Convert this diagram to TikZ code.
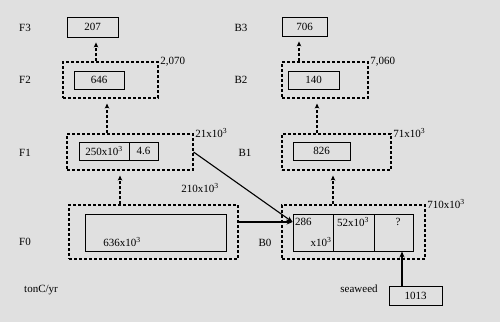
\documentclass[tikz,border=0pt]{standalone}
\usepackage{fontspec}
\setmainfont{Liberation Serif}
\usetikzlibrary{arrows.meta}
\begin{document}
\begin{tikzpicture}[x=1pt,y=-1pt,
  every node/.style={font=\fontsize{11}{13}\selectfont, inner sep=1pt},
  solidbox/.style={draw, line width=0.9pt, minimum height=18pt, inner sep=0pt},
  dashbox/.style={draw, line width=1.1pt, dash pattern=on 3pt off 2pt, inner sep=0pt},
  dasharrow/.style={line width=1.1pt, dash pattern=on 3pt off 2pt, -{Stealth[length=5pt,width=4.5pt]}, shorten >=5pt},
  solidarrow/.style={line width=1.1pt, -{Stealth[length=6pt,width=5pt]}},
  lvl/.style={anchor=center},
  corner/.style={anchor=west, inner sep=1.5pt}]
\fill[gray!24] (0,0) rectangle (500,322);
\useasboundingbox (0,0) rectangle (500,322);
% F side
\node[lvl] (lf3) at (25,28) {F3};
\node[lvl] (lf2) at (25,80) {F2};
\node[lvl] (lf1) at (25,153) {F1};
\node[lvl] (lf0) at (25,242) {F0};
\node[lvl] (lunit) at (41,290) {tonC/yr};
\node[solidbox, minimum width=51pt, minimum height=20pt] (f3box) at (92.5,27) {207};
\node[dashbox, minimum width=95pt, minimum height=36pt] (f2out) at (110.5,80) {};
\node[solidbox, minimum width=50pt] (f2in) at (99,80) {646};
\node[corner] (f2val) at (f2out.north east) {2,070};
\node[dashbox, minimum width=126pt, minimum height=36pt] (f1out) at (130,152) {};
\node[solidbox, minimum width=50pt] (f1a) at (104,151) {250x10\textsuperscript{3}};
\node[solidbox, minimum width=29pt] (f1b) at (143.5,151) {4.6};
\node[corner] (f1val) at (f1out.north east) {21x10\textsuperscript{3}};
\node[dashbox, minimum width=169pt, minimum height=54pt] (f0out) at (153.5,232) {};
\node[solidbox, minimum width=141pt, minimum height=37pt] (f0in) at (155.5,232.5) {};
\node (f0txt) at (122,242) {636x10\textsuperscript{3}};
\node (flux) at (200,188) {210x10\textsuperscript{3}};
% B side
\node[lvl] (lb3) at (241,28) {B3};
\node[lvl] (lb2) at (241,80) {B2};
\node[lvl] (lb1) at (245,153) {B1};
\node[lvl] (lb0) at (265,243) {B0};
\node[lvl] (lsea) at (359,289) {seaweed};
\node[solidbox, minimum width=45pt, minimum height=19pt] (b3box) at (304.5,26.5) {706};
\node[dashbox, minimum width=86pt, minimum height=36pt] (b2out) at (325,80) {};
\node[solidbox, minimum width=51pt] (b2in) at (313.5,80) {140};
\node[corner] (b2val) at (b2out.north east) {7,060};
\node[dashbox, minimum width=109pt, minimum height=36pt] (b1out) at (336.5,152) {};
\node[solidbox, minimum width=57pt] (b1in) at (321.5,151) {826};
\node[corner] (b1val) at (b1out.north east) {71x10\textsuperscript{3}};
\node[dashbox, minimum width=143pt, minimum height=54pt] (b0out) at (353.5,232) {};
\node[solidbox, minimum width=40pt, minimum height=37pt] (b0a) at (313,232.5) {};
\node[solidbox, minimum width=41pt, minimum height=37pt] (b0b) at (353.5,232.5) {};
\node[solidbox, minimum width=39pt, minimum height=37pt] (b0c) at (393.5,232.5) {};
\node[anchor=west] (b0a1) at (294,222) {286};
\node (b0a2) at (321,242) {x10\textsuperscript{3}};
\node (b0b1) at (353,222) {52x10\textsuperscript{3}};
\node (b0c1) at (398,222) {?};
\node[corner] (b0val) at (b0out.north east) {710x10\textsuperscript{3}};
\node[solidbox, minimum width=53pt, minimum height=19pt] (seabox) at (415.5,295.5) {1013};
% arrows
\draw[dasharrow] (f2out.north -| 96,0) -- (f3box.south -| 96,0);
\draw[dasharrow] (f1out.north -| 107,0) -- (f2out.south -| 107,0);
\draw[dasharrow] (f0out.north -| 120,0) -- (f1out.south -| 120,0);
\draw[dasharrow] (b2out.north -| 299,0) -- (b3box.south -| 299,0);
\draw[dasharrow] (b1out.north -| 317,0) -- (b2out.south -| 317,0);
\draw[dasharrow] (b0out.north -| 333,0) -- (b1out.south -| 333,0);
\draw[solidarrow] (f1out.east) -- (b0a.west |- 0,222);
\draw[solidarrow] (f0out.east |- 0,222) -- (b0a.west |- 0,222);
\draw[solidarrow] (seabox.north -| 402,0) -- (b0c.south -| 402,0);
\end{tikzpicture}
\end{document}
